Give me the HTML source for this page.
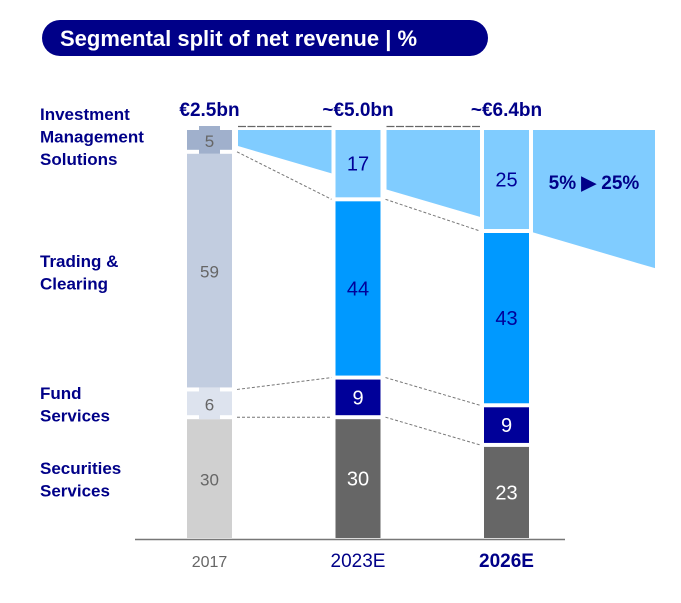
<!DOCTYPE html>
<html><head><meta charset="utf-8"><style>
body{margin:0;background:#fff;font-family:"Liberation Sans",Arial,sans-serif}
svg{display:block}
</style></head><body>
<svg id="c" width="681" height="603" xmlns="http://www.w3.org/2000/svg">
<rect x="42" y="20" width="446" height="36" rx="18" fill="#000088"/>
<text x="60" y="46" fill="#fff" font-size="22" font-weight="bold">Segmental split of net revenue | %</text>
<g fill="#000088" font-size="17" font-weight="bold">
<text x="40" y="120"><tspan x="40">Investment</tspan><tspan x="40" dy="22.5">Management</tspan><tspan x="40" dy="22.5">Solutions</tspan></text>
<text x="40" y="267"><tspan x="40">Trading &amp;</tspan><tspan x="40" dy="22.5">Clearing</tspan></text>
<text x="40" y="399"><tspan x="40">Fund</tspan><tspan x="40" dy="22.5">Services</tspan></text>
<text x="40" y="474"><tspan x="40">Securities</tspan><tspan x="40" dy="22.5">Services</tspan></text>
</g>
<line x1="135" y1="539.5" x2="565" y2="539.5" stroke="#777" stroke-width="1.5"/>
</svg>
<script>
const years=["2017","2023E","2026E"];
const totals=["€2.5bn","~€5.0bn","~€6.4bn"];
const securities=[30,30,23];
const fund=[6,9,9];
const trading=[59,44,43];
const ims=[5,17,25];
const growthLabel="5% ▶ 25%";
const svg=document.getElementById('c');
const NS="http://www.w3.org/2000/svg";
const base=538, scale=3.96, gap=4, barW=45;
const xPos=i=>187+i*148.5;
const h=v=>v*scale;
function mk(t,a){const e=document.createElementNS(NS,t);for(const k in a)e.setAttribute(k,a[k]);svg.appendChild(e);return e;}
const cols=[["#d0d0d0","#dde3ee","#c2cde0","#a0b0cc"],["#666666","#000099","#0099ff","#80ccff"],["#666666","#000099","#0099ff","#80ccff"]];
const txt=[["#666","#666","#666","#666"],["#fff","#fff","#000099","#000099"],["#fff","#fff","#000099","#000099"]];
const names=["securities","fund","trading","ims"];
const bounds=[];
const topY=base-100*scale-3*gap;
// wedge band bottom line: from 2017 IMS bottom to far right
const wedge=x=>146+(x-238)*0.293;
// bands first
for(let i=0;i<2;i++){
  const x1=xPos(i)+barW+6,x2=xPos(i+1)-4;
  const p=mk('polygon',{points:`${x1},${topY} ${x2},${topY} ${x2},${wedge(x2)} ${x1},${wedge(x1)}`,fill:'#80ccff'});
  
  
  const d=mk('line',{x1:x1,y1:topY-3.5,x2:x2,y2:topY-3.5,stroke:'#666','stroke-dasharray':'8,1.5','stroke-width':1.2});
  
  
}
const ax=xPos(2)+barW+4;
const arrow=mk('polygon',{points:`${ax},${topY} 655,${topY} 655,${wedge(655)} ${ax},${wedge(ax)}`,fill:'#80ccff'});


years.forEach((y,i)=>{
  const vals=[securities[i],fund[i],trading[i],ims[i]];
  let top=base;const b=[];
  vals.forEach((v,j)=>{
    const hh=h(v);const y0=top-hh;
    const r=mk('rect',{x:xPos(i),y:y0,width:barW,height:hh,fill:cols[i][j]});
    
    
    if(i===0&&(j===1||j===3)){const n=mk('rect',{x:xPos(i)+12,y:y0-4,width:barW-24,height:hh+8,fill:cols[i][j]});
      }
    const t=mk('text',{x:xPos(i)+barW/2,y:y0+hh/2+7,'text-anchor':'middle','font-size':i===0?17:20,fill:txt[i][j]});
    t.textContent=v;
    
    
    b.push([top,y0]);
    top=y0-gap;
  });
  bounds.push(b);
  const tt=mk('text',{x:xPos(i)+barW/2,y:116,'text-anchor':'middle','font-size':19,'font-weight':'bold',fill:'#000088'});
  tt.textContent=totals[i];
  
  
  const yl=mk('text',{x:xPos(i)+barW/2,y:567,'text-anchor':'middle','font-size':i===0?16:19,'font-weight':i===2?'bold':'normal',fill:i===0?'#666':'#000088'});
  yl.textContent=y;
  
  
});
for(let i=0;i<2;i++){
  const x1=xPos(i)+barW+5,x2=xPos(i+1)-4;
  const segs=[[bounds[i][3][0]+gap/2,bounds[i+1][3][0]+gap/2],[bounds[i][2][0]+gap/2,bounds[i+1][2][0]+gap/2],[bounds[i][1][0]+gap/2,bounds[i+1][1][0]+gap/2]];
  segs.forEach(([a,c])=>{
    const l=mk('line',{x1:x1,y1:a,x2:x2,y2:c,stroke:'#777','stroke-dasharray':'3,2','stroke-width':1});
    
    
  });
}
const gl=mk('text',{x:594,y:189,'text-anchor':'middle','font-size':19,'font-weight':'bold',fill:'#000088'});
gl.textContent=growthLabel;


</script>
</body></html>
